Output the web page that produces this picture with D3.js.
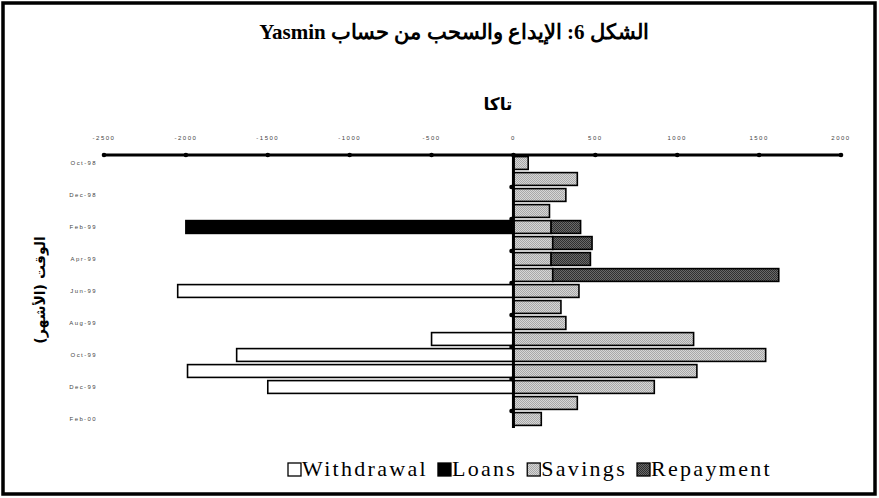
<!DOCTYPE html>
<html>
<head>
<meta charset="utf-8">
<script src="https://cdn.jsdelivr.net/npm/d3@7"></script>
<style>
  body { margin: 0; background: #fff; }
  svg { display: block; }
  .serif { font-family: "Liberation Serif", "Times New Roman", Tinos, "DejaVu Serif", serif; }
</style>
</head>
<body>
<script>
	// months, one bar row each
	var months = ["Oct-98", "Nov-98", "Dec-98", "Jan-99", "Feb-99", "Mar-99", "Apr-99", "May-99", "Jun-99",
		"Jul-99", "Aug-99", "Sep-99", "Oct-99", "Nov-99", "Dec-99", "Jan-00", "Feb-00"];
	var withdrawal = [0, 0, 0, 0, 0, 0, 0, 0, -2050, 0, 0, -500, -1690, -1990, -1500, 0, 0];
	var loans      = [0, 0, 0, 0, -2000, 0, 0, 0, 0, 0, 0, 0, 0, 0, 0, 0, 0];
	var savings    = [90, 390, 320, 220, 230, 240, 230, 240, 400, 290, 320, 1100, 1540, 1120, 860, 390, 170];
	var repayment  = [0, 0, 0, 0, 180, 240, 240, 1380, 0, 0, 0, 0, 0, 0, 0, 0, 0];
	var xTicks = [-2500, -2000, -1500, -1000, -500, 0, 500, 1000, 1500, 2000];
	var keys = ["Withdrawal", "Loans", "Savings", "Repayment"];

	var width = 879,
		height = 498;

	var rows = months.map(function(m, i) {
		return {month: m, Withdrawal: withdrawal[i], Loans: loans[i], Savings: savings[i], Repayment: repayment[i]};
	});

	var svg = d3.select("body").append("svg")
		.attr("width", width)
		.attr("height", height);

	// hatch-like fills for the two grey series
	var defs = svg.append("defs");
	function dotPattern(id, a, b) {
		var p = defs.append("pattern").attr("id", id)
			.attr("width", 2).attr("height", 2)
			.attr("patternUnits", "userSpaceOnUse");
		p.append("rect").attr("width", 2).attr("height", 2).attr("fill", a);
		p.append("rect").attr("width", 1).attr("height", 1).attr("fill", b);
		p.append("rect").attr("x", 1).attr("y", 1).attr("width", 1).attr("height", 1).attr("fill", b);
	}
	dotPattern("pSavings", "#d6d6d6", "#a8a8a8");
	dotPattern("pRepay", "#6a6a6a", "#303030");

	var fill = {Withdrawal: "#fff", Loans: "#000", Savings: "url(#pSavings)", Repayment: "url(#pRepay)"};

	// frame
	svg.append("rect")
		.attr("x", 3).attr("y", 3)
		.attr("width", 872).attr("height", 491)
		.attr("fill", "none")
		.attr("stroke", "#000")
		.attr("stroke-width", 3.5);

	svg.append("text")
		.attr("class", "serif")
		.attr("x", 454).attr("y", 39)
		.attr("text-anchor", "middle")
		.attr("direction", "rtl")
		.style("font-weight", "bold")
		.style("font-size", "21px")
		.text("الشكل 6: الإيداع والسحب من حساب Yasmin");

	var x = d3.scaleLinear()
		.domain([-2500, 2000])
		.range([104, 841]);

	var y = d3.scaleBand()
		.domain(months)
		.range([155, 427])
		.paddingInner(0.2)
		.paddingOuter(0.1);

	var stack = d3.stack()
		.keys(keys)
		.offset(d3.stackOffsetDiverging);

	var series = svg.append("g").selectAll("g")
		.data(stack(rows))
		.enter().append("g")
		.attr("fill", function(d) { return fill[d.key]; });

	series.selectAll("rect")
		.data(function(d) { return d.filter(function(v) { return v[1] - v[0] !== 0; }); })
		.enter().append("rect")
		.attr("x", function(d) { return x(Math.min(d[0], d[1])); })
		.attr("y", function(d) { return y(d.data.month); })
		.attr("width", function(d) { return Math.abs(x(d[1]) - x(d[0])); })
		.attr("height", y.bandwidth())
		.attr("stroke", "#000")
		.attr("stroke-width", 1.6);

	// top value axis
	var xAxis = svg.append("g");
	xAxis.append("line")
		.attr("x1", x(-2500)).attr("x2", x(2000))
		.attr("y1", 155).attr("y2", 155)
		.attr("stroke", "#000").attr("stroke-width", 3);
	xAxis.selectAll("circle")
		.data(xTicks)
		.enter().append("circle")
		.attr("cx", function(d) { return x(d); })
		.attr("cy", 155).attr("r", 2.3);
	xAxis.selectAll("text")
		.data(xTicks)
		.enter().append("text")
		.attr("x", function(d) { return x(d); })
		.attr("y", 140)
		.attr("text-anchor", "middle")
		.style("font-family", "'Liberation Sans', Arial, sans-serif")
		.style("font-size", "6px")
		.style("letter-spacing", "1.5px")
		.attr("fill", "#444")
		.text(function(d) { return d; });

	svg.append("text")
		.attr("x", 498).attr("y", 110)
		.attr("text-anchor", "middle")
		.style("font-family", "'DejaVu Sans', sans-serif")
		.style("font-weight", "bold")
		.style("font-size", "17px")
		.text("تاكا");

	// category axis at zero
	var yAxis = svg.append("g");
	yAxis.append("line")
		.attr("x1", x(0)).attr("x2", x(0))
		.attr("y1", 155).attr("y2", 428)
		.attr("stroke", "#000").attr("stroke-width", 3);
	var labelled = months.filter(function(m, i) { return i % 2 === 0; });
	yAxis.selectAll("circle")
		.data(labelled.slice(1))
		.enter().append("circle")
		.attr("cx", x(0) - 2)
		.attr("cy", function(d) { return y(d) - y.step() * y.paddingInner() / 2; })
		.attr("r", 2.2);
	yAxis.selectAll("text")
		.data(labelled)
		.enter().append("text")
		.attr("x", 97)
		.attr("y", function(d) { return y(d) + y.bandwidth() / 2; })
		.attr("dy", "0.35em")
		.attr("text-anchor", "end")
		.style("font-family", "'Liberation Sans', Arial, sans-serif")
		.style("font-size", "6px")
		.style("letter-spacing", "1.4px")
		.attr("fill", "#444")
		.text(function(d) { return d; });

	svg.append("text")
		.attr("transform", "translate(45,290) rotate(-90)")
		.attr("text-anchor", "middle")
		.attr("direction", "rtl")
		.style("font-family", "'DejaVu Sans', sans-serif")
		.style("font-weight", "bold")
		.style("font-size", "14px")
		.text("الوقت (الأشهر)");

	// legend
	var legend = svg.append("g");
	var lx = 288;
	keys.forEach(function(k) {
		legend.append("rect")
			.attr("x", lx).attr("y", 463)
			.attr("width", 13).attr("height", 13)
			.attr("fill", fill[k])
			.attr("stroke", "#000").attr("stroke-width", 1.3);
		var t = legend.append("text")
			.attr("class", "serif")
			.attr("x", lx + 14).attr("y", 476)
			.style("font-size", "22px")
			.style("letter-spacing", "2.3px")
			.text(k);
		lx += 14 + t.node().getComputedTextLength() + 10;
	});
</script>
</body>
</html>
